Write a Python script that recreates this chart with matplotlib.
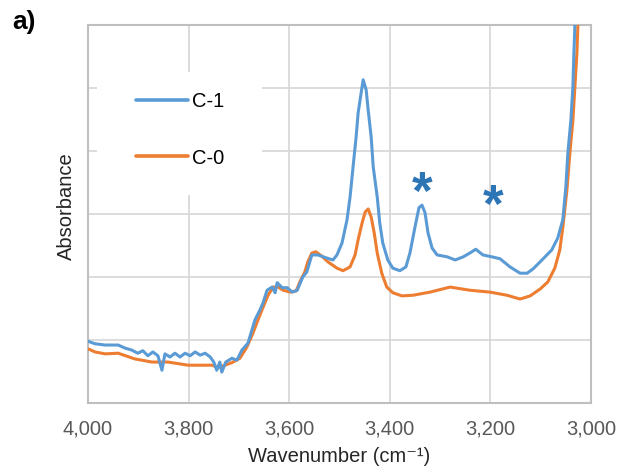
import matplotlib
matplotlib.use("Agg")
import matplotlib.pyplot as plt
from matplotlib.patches import Rectangle
from matplotlib.ticker import FuncFormatter

plt.rcParams['font.family'] = ['Liberation Sans', 'DejaVu Sans']

# C-1 (blue) spectrum
c1_wn = [4000, 3986, 3966, 3940, 3926, 3913, 3901, 3891, 3881, 3871, 3861, 3853, 3847,
         3837, 3827, 3817, 3807, 3797, 3787, 3777, 3767, 3757, 3750, 3744, 3738, 3734,
         3726, 3714, 3704, 3694, 3682, 3668, 3658, 3652, 3644, 3634, 3628, 3624, 3614,
         3604, 3594, 3584, 3573, 3565, 3555, 3543, 3525, 3513, 3505, 3495, 3485, 3479,
         3473, 3467, 3463, 3457, 3453, 3447, 3443, 3437, 3433, 3425, 3420, 3414, 3404,
         3394, 3380, 3368, 3360, 3350, 3342, 3336, 3330, 3324, 3316, 3306, 3286, 3270,
         3254, 3241, 3229, 3215, 3197, 3181, 3161, 3141, 3127, 3115, 3095, 3078, 3066,
         3056, 3050, 3046, 3040, 3036, 3034, 3032, 3028]
c1_abs = [0.98, 0.94, 0.92, 0.92, 0.87, 0.84, 0.79, 0.83, 0.75, 0.81, 0.75, 0.52, 0.78,
          0.73, 0.79, 0.73, 0.79, 0.75, 0.81, 0.76, 0.79, 0.73, 0.65, 0.52, 0.65, 0.49,
          0.65, 0.71, 0.68, 0.84, 0.95, 1.32, 1.48, 1.59, 1.79, 1.84, 1.75, 1.91, 1.83,
          1.83, 1.76, 1.79, 2.00, 2.08, 2.35, 2.35, 2.30, 2.27, 2.35, 2.54, 2.91, 3.27,
          3.75, 4.22, 4.60, 4.92, 5.13, 4.97, 4.65, 4.22, 3.75, 3.27, 2.86, 2.54, 2.27,
          2.14, 2.10, 2.16, 2.38, 2.79, 3.10, 3.14, 3.02, 2.70, 2.46, 2.35, 2.32, 2.27,
          2.32, 2.38, 2.44, 2.35, 2.32, 2.29, 2.16, 2.06, 2.06, 2.13, 2.29, 2.43, 2.62,
          2.91, 3.43, 3.97, 4.49, 5.02, 5.56, 6.00, 6.64]

# C-0 (orange) spectrum
c0_wn = [4000, 3986, 3966, 3940, 3907, 3873, 3841, 3801, 3753, 3742, 3728, 3714, 3698,
         3684, 3672, 3662, 3652, 3642, 3632, 3622, 3612, 3598, 3586, 3579, 3569, 3563,
         3555, 3547, 3535, 3523, 3505, 3493, 3479, 3469, 3463, 3455, 3449, 3443, 3437,
         3431, 3425, 3416, 3406, 3394, 3376, 3354, 3320, 3280, 3241, 3201, 3167, 3141,
         3121, 3101, 3086, 3072, 3062, 3056, 3048, 3042, 3036, 3032, 3028, 3026, 3022]
c0_abs = [0.86, 0.81, 0.78, 0.79, 0.70, 0.65, 0.65, 0.60, 0.60, 0.56, 0.60, 0.64, 0.71,
          0.89, 1.11, 1.32, 1.52, 1.71, 1.84, 1.84, 1.79, 1.76, 1.78, 1.92, 2.08, 2.24,
          2.38, 2.40, 2.33, 2.24, 2.14, 2.10, 2.16, 2.35, 2.59, 2.86, 3.03, 3.08, 2.95,
          2.70, 2.38, 2.06, 1.84, 1.75, 1.70, 1.71, 1.76, 1.84, 1.79, 1.76, 1.71, 1.65,
          1.70, 1.81, 1.92, 2.14, 2.43, 2.79, 3.37, 3.97, 4.49, 5.02, 5.56, 6.00, 6.64]

series_names = ["C-1", "C-0"]
x_ticks = [4000, 3800, 3600, 3400, 3200, 3000]
marked_peaks = [(3336, 3.46), (3195, 3.25)]

fig = plt.figure(figsize=(6.21, 4.74), dpi=100)
ax = fig.add_axes([0.1417, 0.1498, 0.81, 0.7975])

blue = '#5B9BD5'
orange = '#ED7D31'
ax.plot(c1_wn, c1_abs, color=blue, lw=2.2, label=series_names[0], zorder=4,
        solid_joinstyle='round', solid_capstyle='round')
ax.plot(c0_wn, c0_abs, color=orange, lw=2.2, label=series_names[1], zorder=3,
        solid_joinstyle='round', solid_capstyle='round')

ax.set_xlim(4000, 3000)
ax.set_ylim(0, 6)
ax.set_xticks(x_ticks)
ax.xaxis.set_major_formatter(FuncFormatter(lambda v, p: f"{int(v):,}"))
ax.set_yticks(range(0, 7))
ax.set_yticklabels([])
ax.grid(True, color='#D9D9D9', lw=1.3, zorder=0)
ax.set_axisbelow(True)
ax.tick_params(length=0, labelsize=14.5, labelcolor='#595959', pad=12)
for s in ax.spines.values():
    s.set_color('#BFBFBF')
    s.set_linewidth(1.5)

ax.set_xlabel("Wavenumber (cm\u207b\u00b9)", fontsize=14.5, color='#262626', labelpad=6)
ax.set_ylabel("Absorbance", fontsize=14.5, color='#262626')
ax.yaxis.set_label_coords(-0.024, 0.52)

# legend with white background
ax.add_patch(Rectangle((0.018, 0.55), 0.328, 0.326, transform=ax.transAxes,
                       facecolor='white', edgecolor='none', zorder=2))
leg = ax.legend(loc='upper left', bbox_to_anchor=(0.0955, 0.822), frameon=False,
                borderpad=0, borderaxespad=0, handlelength=2.6, handletextpad=0.2,
                labelspacing=1.85, fontsize=14.5)
leg.set_zorder(5)
for h in leg.legend_handles:
    h.set_linewidth(2.6)

for (xw, ya) in marked_peaks:
    ax.text(xw, ya - 0.16, '*', color='#2E75B6', fontsize=38, ha='center', va='center',
            fontweight='bold', zorder=6)

fig.text(0.019, 0.953, 'a)', fontsize=19, fontweight='bold', ha='left', va='center')

fig.savefig('out.png', dpi=100)
